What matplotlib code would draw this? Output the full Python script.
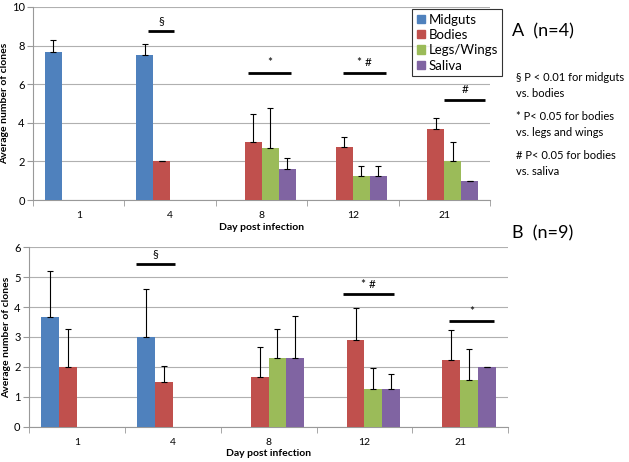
import numpy as np
import matplotlib.pyplot as plt
from matplotlib.patches import Patch

days = ["1", "4", "8", "12", "21"]
series = ["Midguts", "Bodies", "Legs/Wings", "Saliva"]
colors = ["#4F81BD", "#C0504D", "#9BBB59", "#8064A2"]

# panel A (n=4), nan = no bar
a_mid = [7.67, 7.5, np.nan, np.nan, np.nan]
a_bod = [np.nan, 2.0, 3.0, 2.75, 3.67]
a_leg = [np.nan, np.nan, 2.67, 1.25, 2.0]
a_sal = [np.nan, np.nan, 1.6, 1.25, 1.0]
a_mid_err = [0.6, 0.6, 0, 0, 0]
a_bod_err = [0, 0.0, 1.44, 0.5, 0.6]
a_leg_err = [0, 0, 2.08, 0.5, 1.0]
a_sal_err = [0, 0, 0.6, 0.5, 0.0]

# panel B (n=9)
b_mid = [3.67, 3.0, np.nan, np.nan, np.nan]
b_bod = [2.0, 1.5, 1.67, 2.89, 2.22]
b_leg = [np.nan, np.nan, 2.29, 1.25, 1.56]
b_sal = [np.nan, np.nan, 2.29, 1.25, 2.0]
b_mid_err = [1.53, 1.6, 0, 0, 0]
b_bod_err = [1.25, 0.54, 1.0, 1.07, 1.02]
b_leg_err = [0, 0, 0.97, 0.72, 1.04]
b_sal_err = [0, 0, 1.4, 0.5, 0.0]

# significance marks: (x0, x1, y, label)
a_sig = [(0.76, 1.04, 8.77, "§"), (1.85, 2.32, 6.6, "*"),
         (2.89, 3.36, 6.6, "* #"), (4.0, 4.45, 5.18, "#")]
b_sig = [(0.62, 1.02, 5.44, "§"), (2.78, 3.31, 4.42, "* #"),
         (3.88, 4.35, 3.53, "*")]

plt.rcParams['font.family'] = ['Lato', 'DejaVu Sans']

fig = plt.figure(figsize=(6.29, 4.62), dpi=100)
ax_a = fig.add_axes([0.0525, 0.567, 0.7265, 0.418])
ax_b = fig.add_axes([0.046, 0.0768, 0.762, 0.388])

w = 0.186
x = np.arange(len(days))


def draw_panel(ax, vals, errs, sig, ymax, step, ylab_x):
    for k, (v, e, c) in enumerate(zip(vals, errs, colors)):
        pos = x + (k - 1.5) * w
        v = np.array(v, dtype=float)
        ax.bar(pos, v, w, color=c, zorder=3)
        ok = ~np.isnan(v)
        ax.errorbar(pos[ok], v[ok], yerr=[np.zeros(ok.sum()), np.array(e)[ok]],
                    fmt='none', ecolor='black', elinewidth=0.8, capsize=2.5,
                    capthick=0.8, zorder=4)
    for x0, x1, y, lab in sig:
        ax.plot([x0, x1], [y, y], color='black', lw=2, zorder=5,
                solid_capstyle='butt')
        ax.text((x0 + x1) / 2, y + ymax * 0.025, lab, ha='center', va='bottom',
                fontsize=8.5)
    ax.set_xlim(-0.5, len(days) - 0.5)
    ax.set_ylim(0, ymax)
    ax.set_yticks(np.arange(0, ymax + 0.1, step))
    ax.set_xticks(x)
    ax.set_xticklabels(days, fontsize=7.5)
    ax.set_xticks(np.arange(-0.5, len(days)), minor=True)
    ax.tick_params(axis='x', which='major', length=0, pad=8)
    ax.tick_params(axis='x', which='minor', length=4, color='#999999')
    ax.tick_params(axis='y', labelsize=8, length=4, color='#999999', pad=2)
    ax.grid(axis='y', color='#b0b0b0', lw=0.8, zorder=0)
    for s in ['top', 'right']:
        ax.spines[s].set_visible(False)
    for s in ['left', 'bottom']:
        ax.spines[s].set_color('#999999')
    ax.set_xlabel("Day post infection", fontsize=7.5, fontweight='bold',
                  labelpad=2)
    ax.set_ylabel("Average number of clones", fontsize=7.5, fontweight='bold')
    ax.yaxis.set_label_coords(ylab_x, 0.5)


draw_panel(ax_a, [a_mid, a_bod, a_leg, a_sal],
           [a_mid_err, a_bod_err, a_leg_err, a_sal_err], a_sig, 10, 2, -0.053)
draw_panel(ax_b, [b_mid, b_bod, b_leg, b_sal],
           [b_mid_err, b_bod_err, b_leg_err, b_sal_err], b_sig, 6, 1, -0.038)

handles = [Patch(color=c, label=s) for s, c in zip(series, colors)]
leg = fig.legend(handles=handles, loc='upper left',
                 bbox_to_anchor=(412 / 629, 1 - 9 / 462), fontsize=9.5,
                 frameon=True, fancybox=False, edgecolor='black',
                 handlelength=0.6, handleheight=0.6, handletextpad=0.3,
                 labelspacing=0.25, borderpad=0.35, borderaxespad=0)
leg.get_frame().set_linewidth(0.8)

fig.text(512 / 629, 1 - 31 / 462, "A  (n=4)", fontsize=13, va='center')
fig.text(512 / 629, 1 - 233 / 462, "B  (n=9)", fontsize=13, va='center')

notes = ["§ P < 0.01 for midguts\nvs. bodies",
         "* P< 0.05 for bodies\nvs. legs and wings",
         "# P< 0.05 for bodies\nvs. saliva"]
for i, n in enumerate(notes):
    fig.text(516 / 629, 1 - (72 + i * 39) / 462, n, fontsize=8, va='top',
             linespacing=1.55)

fig.savefig("out.png", dpi=100)
